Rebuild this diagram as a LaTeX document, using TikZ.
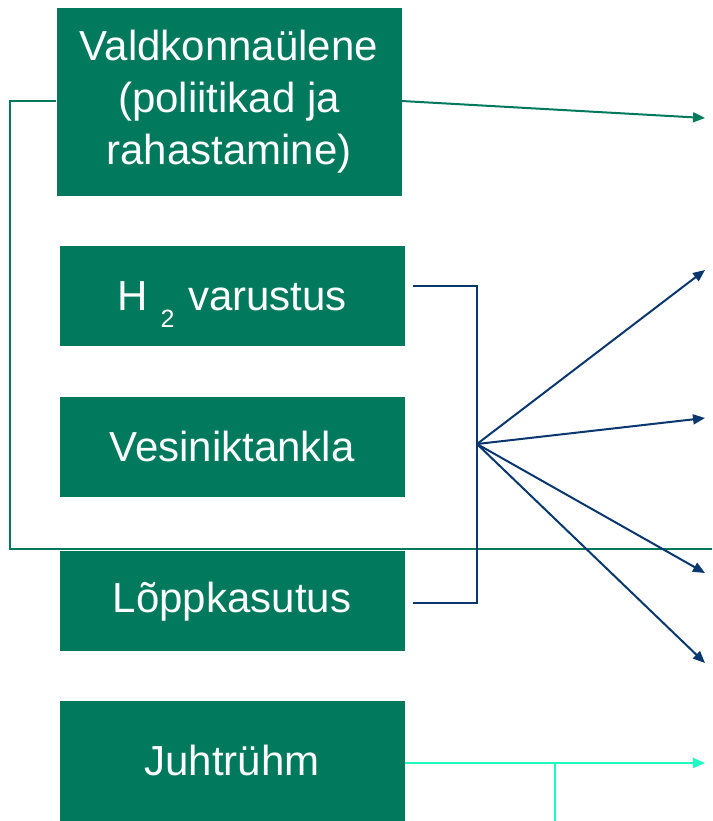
\documentclass[tikz,border=0pt]{standalone}
\usepackage{fontspec}
\setmainfont{Liberation Sans}
\usepackage{tikz}
\usetikzlibrary{arrows.meta,positioning}
\definecolor{boxgreen}{RGB}{0,121,92}
\definecolor{linkblue}{RGB}{10,55,110}
\definecolor{linkcyan}{RGB}{30,250,196}
\tikzset{
  box/.style={rectangle, fill=boxgreen, text=white, align=center, minimum width=345pt, minimum height=100pt, inner sep=0pt, font=\fontsize{42}{52}\selectfont},
  arrow/.style={-{Triangle[length=12pt, width=10pt]}, line width=2pt},
  link/.style={line width=2pt}
}

\begin{document}
\begin{tikzpicture}[x=1pt, y=-1pt, node distance=50pt]
\useasboundingbox (0,0) rectangle (712,821);
\node[box, minimum height=188pt] (cross) at (229,102) {Valdkonnaülene\\(poliitikad ja\\rahastamine)};
\node[box, below=50pt of cross.south, anchor=north, xshift=3pt] (supply) {H\hspace{13pt}\raisebox{-17pt}[0pt][0pt]{\fontsize{25}{26}\selectfont 2}\hspace{2pt} varustus};
\node[box, below=of supply] (station) {Vesiniktankla};
\node[box, below=54pt of station] (enduse) {Lõppkasutus};
\node[box, minimum height=120pt, below=49pt of enduse] (steer) {\raisebox{-3pt}{Juhtrühm}};
% green frame
\coordinate (gA) at (10,101);
\coordinate (gB) at (10,549);
\coordinate (gE) at (712,549);
\coordinate (gT) at (705,118);
\draw[link, boxgreen] (cross.west |- gA) -- (gA) -- (gB) -- (gE);
\draw[arrow, boxgreen] (cross.east |- gA) -- (gT);
% blue bracket and fan
\coordinate (bA) at (413,286);
\coordinate (bB) at (477,286);
\coordinate (bC) at (477,603);
\coordinate (bD) at (413,603);
\coordinate (hub) at (477,444);
\draw[link, linkblue] (bA) -- (bB) -- (bC) -- (bD);
\foreach \ty in {270,418,573,663}
  \draw[arrow, linkblue] (hub) -- (705,\ty);
% cyan
\coordinate (cT) at (705,763);
\coordinate (cJ) at (555,763);
\coordinate (cB) at (555,821);
\draw[arrow, linkcyan] (steer.east |- cT) -- (cT);
\draw[link, linkcyan] (cJ) -- (cB);
\end{tikzpicture}
\end{document}
